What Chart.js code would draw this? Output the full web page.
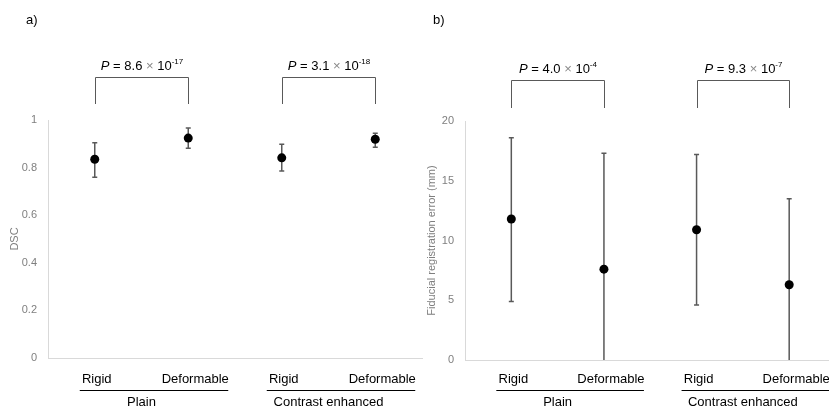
<!DOCTYPE html>
<html>
<head>
<meta charset="utf-8">
<script src="https://cdn.jsdelivr.net/npm/chart.js@4/dist/chart.umd.min.js"></script>
<style>
    html, body { margin: 0; padding: 0; background: #fff; overflow: hidden; width: 829px; height: 406px; }
    canvas { position: absolute; left: 0; top: 0; }
</style>
</head>
<body>
<canvas id="chart-dsc" width="829" height="406"></canvas>
<canvas id="chart-fre" width="840" height="406"></canvas>
<script>
// categories
const categories = ['Rigid', 'Deformable', 'Rigid', 'Deformable'];
const groups = ['Plain', 'Contrast enhanced'];

// a) DSC, mean with error bar ends
const dscMean = [0.835, 0.924, 0.841, 0.919];
const dscLow = [0.759, 0.881, 0.786, 0.886];
const dscHigh = [0.904, 0.966, 0.898, 0.944];
const dscP = [['8.6', '-17'], ['3.1', '-18']];

// b) fiducial registration error (mm)
const freMean = [11.8, 7.6, 10.9, 6.3];
const freLow = [4.9, 0, 4.6, 0];
const freHigh = [18.6, 17.3, 17.2, 13.5];
const freP = [['4.0', '-4'], ['9.3', '-7']];

const FONT = '"Liberation Sans", Arial, sans-serif';

function pText(ctx, cx, y, pair) {
    // P = 8.6 x 10^-17, drawn piece by piece and centred on cx
    const parts = [
        {t: 'P', f: 'italic 13px ' + FONT, c: '#000', dy: 0},
        {t: ' = ' + pair[0] + ' ', f: '13px ' + FONT, c: '#000', dy: 0},
        {t: '\u00d7', f: '13px ' + FONT, c: '#888', dy: 0},
        {t: ' 10', f: '13px ' + FONT, c: '#000', dy: 0},
        {t: pair[1], f: '8px ' + FONT, c: '#000', dy: -6}
    ];
    let w = 0;
    parts.forEach(p => { ctx.font = p.f; p.w = ctx.measureText(p.t).width; w += p.w; });
    let x = cx - w / 2;
    ctx.textAlign = 'left';
    ctx.textBaseline = 'alphabetic';
    parts.forEach(p => {
        ctx.font = p.f;
        ctx.fillStyle = p.c;
        ctx.fillText(p.t, x, y + p.dy);
        x += p.w;
    });
}

function makePanel(id, opt) {
    const decor = {
        id: 'decor',
        beforeDatasetsDraw(chart) {
            const ctx = chart.ctx;
            const x = chart.scales.x, y = chart.scales.y;
            ctx.save();
            ctx.strokeStyle = '#595959';
            ctx.lineWidth = 1.5;
            opt.low.forEach((lo, i) => {
                const px = x.getPixelForValue(i);
                const top = y.getPixelForValue(opt.high[i]);
                const bot = y.getPixelForValue(lo);
                ctx.beginPath();
                ctx.moveTo(px, top);
                ctx.lineTo(px, bot);
                ctx.moveTo(px - 2.5, top);
                ctx.lineTo(px + 2.5, top);
                if (lo > y.min) {
                    ctx.moveTo(px - 2.5, bot);
                    ctx.lineTo(px + 2.5, bot);
                }
                ctx.stroke();
            });
            ctx.restore();
        },
        afterDraw(chart) {
            const ctx = chart.ctx;
            const x = chart.scales.x, area = chart.chartArea;
            ctx.save();

            // panel letter
            ctx.fillStyle = '#000';
            ctx.font = '13px ' + FONT;
            ctx.textAlign = 'left';
            ctx.textBaseline = 'middle';
            ctx.fillText(opt.letter, opt.letterX, 20);

            // brackets + p values
            ctx.strokeStyle = '#595959';
            ctx.lineWidth = 1;
            opt.p.forEach((pair, g) => {
                const x1 = Math.round(x.getPixelForValue(g * 2)) + 0.5;
                const x2 = Math.round(x.getPixelForValue(g * 2 + 1)) + 0.5;
                ctx.beginPath();
                ctx.moveTo(x1, opt.brLeg);
                ctx.lineTo(x1, opt.brTop);
                ctx.lineTo(x2, opt.brTop);
                ctx.lineTo(x2, opt.brLeg);
                ctx.stroke();
                pText(ctx, (x1 + x2) / 2, opt.pY, pair);
            });

            // two level category labels
            ctx.fillStyle = '#000';
            ctx.textAlign = 'center';
            ctx.textBaseline = 'middle';
            ctx.font = '13px ' + FONT;
            categories.forEach((c, i) => {
                const off = i % 2 === 0 ? 2 : 7;
                ctx.fillText(c, x.getPixelForValue(i) + off, 379);
            });
            groups.forEach((g, k) => {
                const a = x.getPixelForValue(k * 2);
                const b = x.getPixelForValue(k * 2 + 1);
                ctx.strokeStyle = '#000';
                ctx.lineWidth = 1;
                ctx.beginPath();
                ctx.moveTo(a - 15, 390.5);
                ctx.lineTo(b + 40, 390.5);
                ctx.stroke();
                ctx.fillText(g, (a + b) / 2, 402);
            });

            // y title
            ctx.fillStyle = '#7f7f7f';
            ctx.font = '11px ' + FONT;
            ctx.translate(opt.titleX, (area.top + area.bottom) / 2);
            ctx.rotate(-Math.PI / 2);
            ctx.fillText(opt.title, 0, 0);
            ctx.restore();
        }
    };

    return new Chart(document.getElementById(id), {
        type: 'line',
        data: {
            labels: categories,
            datasets: [{
                data: opt.mean,
                showLine: false,
                pointRadius: 4.5,
                pointHoverRadius: 4.5,
                pointBackgroundColor: '#000',
                pointBorderColor: '#000',
                pointBorderWidth: 0
            }]
        },
        options: {
            responsive: false,
            animation: false,
            events: [],
            layout: { padding: opt.padding },
            plugins: { legend: { display: false }, tooltip: { enabled: false } },
            scales: {
                x: {
                    type: 'category',
                    offset: true,
                    ticks: { display: false },
                    grid: { display: false, drawTicks: false },
                    border: { color: '#d9d9d9', width: 1 },
                    afterFit: s => { s.height = 0; }
                },
                y: {
                    min: 0,
                    max: opt.max,
                    ticks: {
                        stepSize: opt.step,
                        padding: 11,
                        color: '#7f7f7f',
                        font: { family: FONT, size: 11 },
                        // excel style: 1 not 1.0
                        callback: v => String(Number(v.toFixed(2)))
                    },
                    grid: { display: false, drawTicks: false },
                    border: { color: '#d9d9d9', width: 1 },
                    afterFit: s => { s.width = 48; }
                }
            }
        },
        plugins: [decor]
    });
}

makePanel('chart-dsc', {
    mean: dscMean, low: dscLow, high: dscHigh, p: dscP,
    max: 1, step: 0.2,
    title: 'DSC', titleX: 15,
    letter: 'a)', letterX: 26,
    brTop: 77.5, brLeg: 104, pY: 70,
    padding: { top: 120, bottom: 48, left: 0, right: 407 }
});

makePanel('chart-fre', {
    mean: freMean, low: freLow, high: freHigh, p: freP,
    max: 20, step: 5,
    title: 'Fiducial registration error (mm)', titleX: 432,
    letter: 'b)', letterX: 433,
    brTop: 80.5, brLeg: 108, pY: 73,
    padding: { top: 121, bottom: 46, left: 417, right: 3 }
});
</script>
</body>
</html>
